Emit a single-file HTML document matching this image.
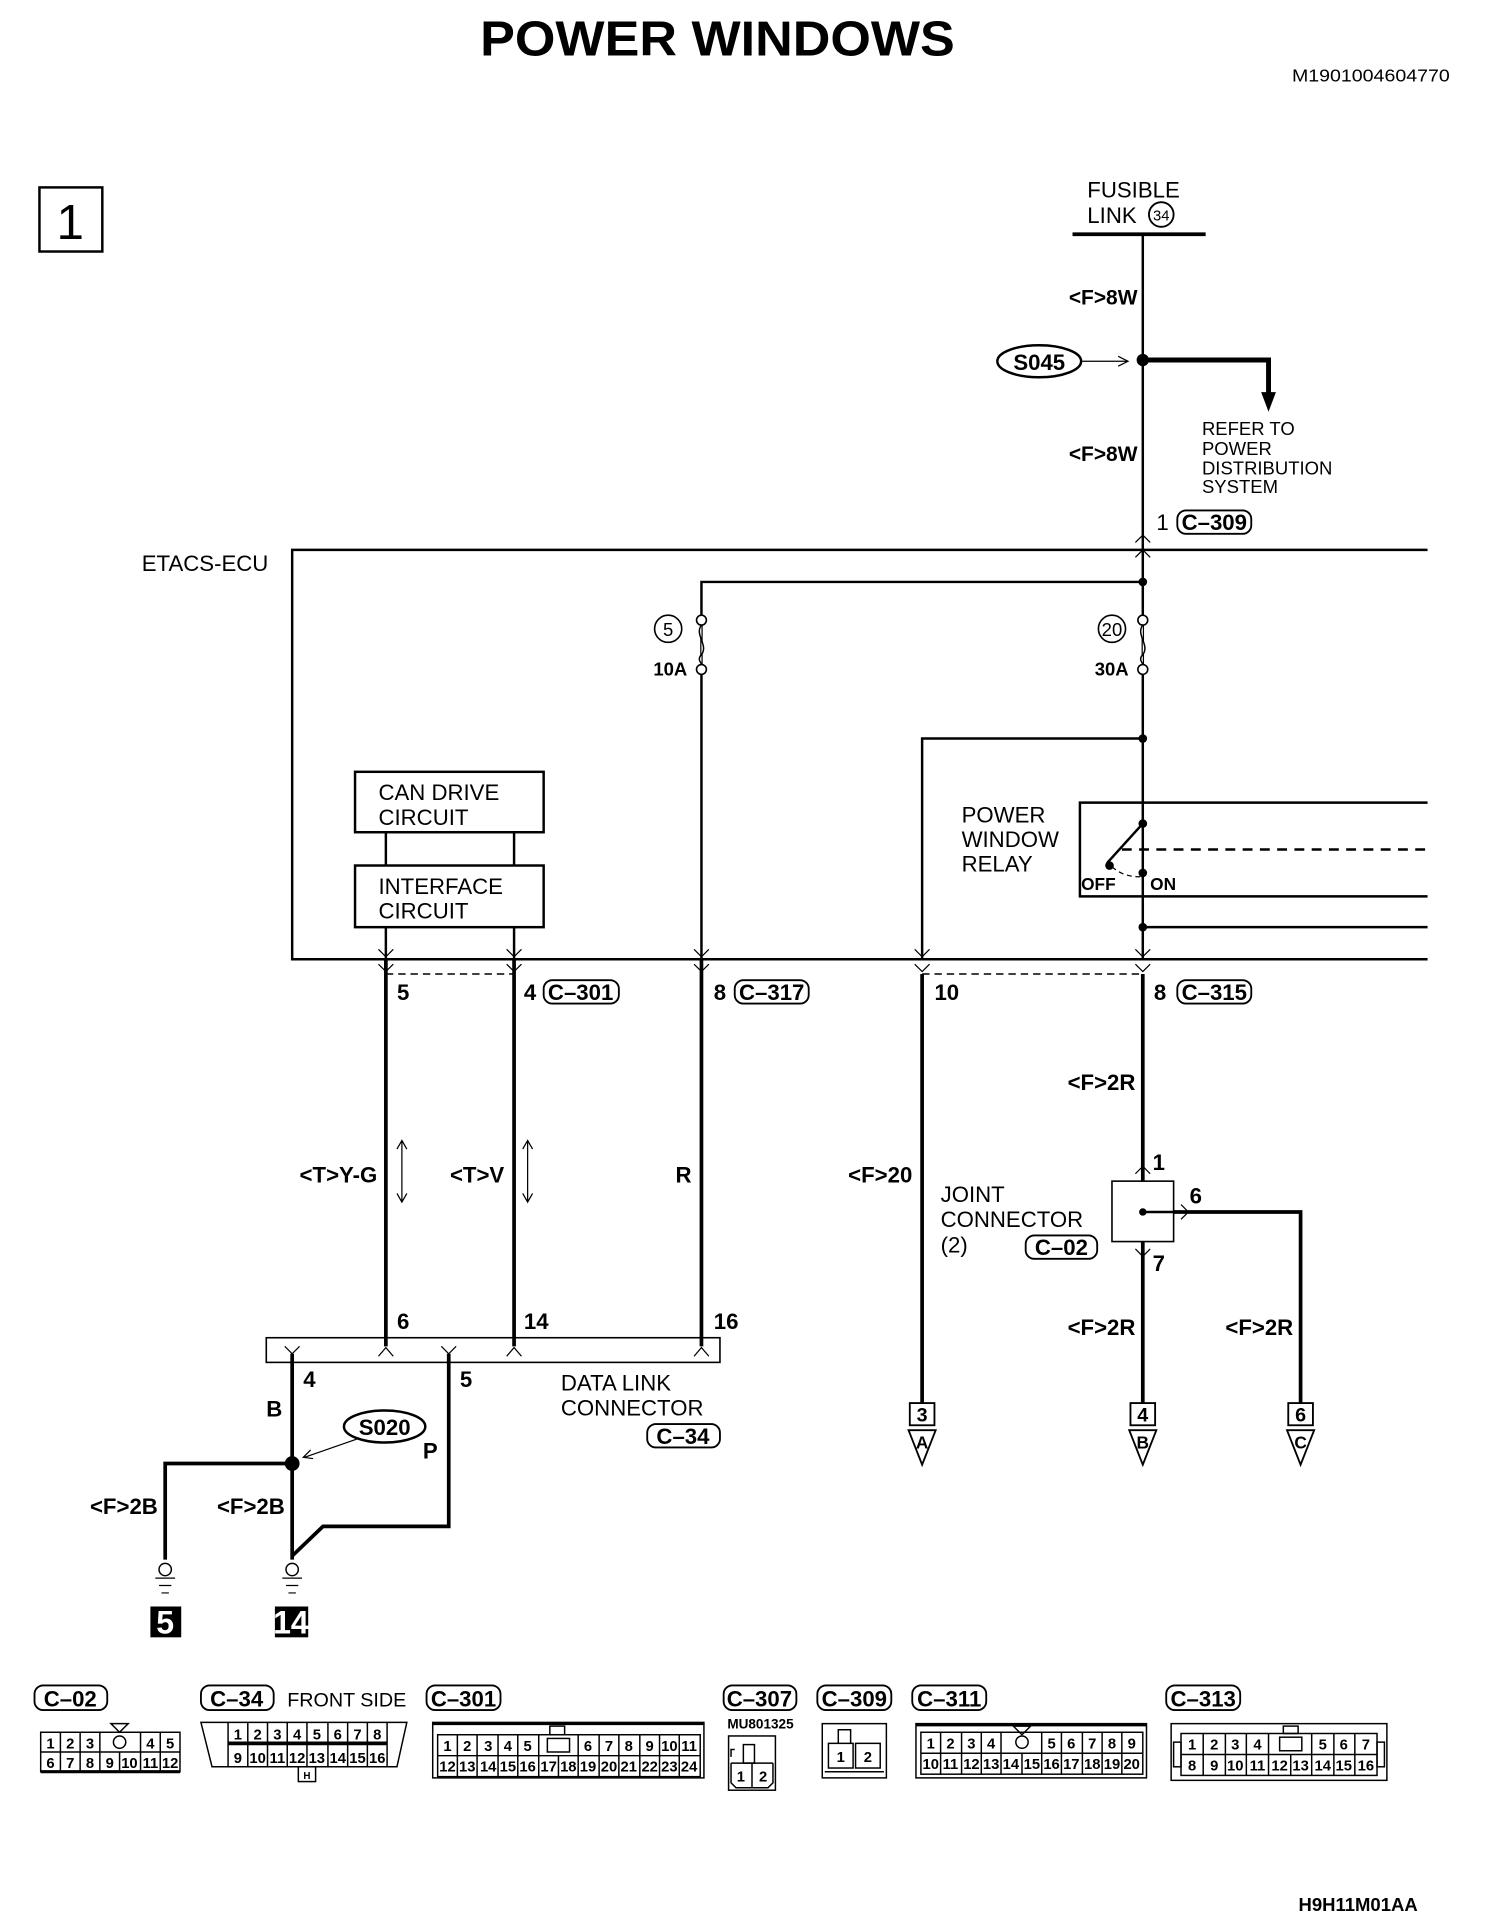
<!DOCTYPE html>
<html><head><meta charset="utf-8"><style>
html,body{margin:0;padding:0;background:#fff}
svg{display:block}
text{font-family:"Liberation Sans Narrow","Liberation Sans",sans-serif;fill:#000}
.b{font-weight:bold}
</style></head><body>
<svg width="1504" height="1932" viewBox="0 0 1220 1567" preserveAspectRatio="none" xmlns="http://www.w3.org/2000/svg">
<rect width="1220" height="1567" fill="#fff"/>
<text x="582" y="45" text-anchor="middle" font-size="40" class="b" style="font-family:'Liberation Sans',sans-serif" textLength="385" lengthAdjust="spacingAndGlyphs">POWER WINDOWS</text>
<text x="1176" y="66" text-anchor="end" font-size="14" textLength="128" lengthAdjust="spacingAndGlyphs">M1901004604770</text>
<rect x="32" y="152" width="51" height="52" fill="none" stroke="#000" stroke-width="2"/>
<text x="57" y="194" text-anchor="middle" font-size="40">1</text>

<text x="882" y="160" font-size="18">FUSIBLE</text>
<text x="882" y="181" font-size="18">LINK</text>
<circle cx="942" cy="174" r="10" fill="none" stroke="#000" stroke-width="1.5"/>
<text x="942" y="179" text-anchor="middle" font-size="12">34</text>
<line x1="870" y1="190" x2="978" y2="190" stroke="#000" stroke-width="3"/>

<g stroke="#000" fill="none" stroke-width="2">
<line x1="927" y1="190" x2="927" y2="778"/>
<path d="M927 292 H1029 V320" stroke-width="4"/>
</g>
<polygon points="1023,318 1035,318 1029,334" fill="#000"/>
<circle cx="927" cy="292" r="5" fill="#000"/>
<ellipse cx="843" cy="293" rx="34" ry="13" fill="none" stroke="#000" stroke-width="2"/>
<text x="843" y="300" text-anchor="middle" font-size="18" class="b">S045</text>
<line x1="878" y1="293" x2="914" y2="293" stroke="#000" stroke-width="1"/>
<path d="M907 289 L915 293 L907 297" fill="none" stroke="#000"/>
<text x="867" y="247" font-size="17" class="b">&lt;F&gt;8W</text>
<text x="867" y="374" font-size="17" class="b">&lt;F&gt;8W</text>
<text x="975" y="353" font-size="15">REFER TO</text>
<text x="975" y="369" font-size="15">POWER</text>
<text x="975" y="385" font-size="15">DISTRIBUTION</text>
<text x="975" y="400" font-size="15">SYSTEM</text>
<text x="938" y="430" font-size="18">1</text>
<rect x="955" y="414" width="60" height="19" rx="7" fill="none" stroke="#000" stroke-width="1.5"/>
<text x="985" y="430" text-anchor="middle" font-size="18" class="b">C–309</text>

<g stroke="#000" fill="none" stroke-width="2">
<path d="M1158 446 H237 V778 H1158"/>
<path d="M569 778 V472 H927"/>
<path d="M748 778 V599 H927"/>
<line x1="313" y1="675" x2="313" y2="702"/>
<line x1="417" y1="675" x2="417" y2="702"/>
<line x1="313" y1="752" x2="313" y2="778"/>
<line x1="417" y1="752" x2="417" y2="778"/>
<rect x="288" y="626" width="153" height="49"/>
<rect x="288" y="702" width="153" height="50"/>
<path d="M1158 651 H876 V727 H1158"/>
<line x1="927" y1="752" x2="1158" y2="752"/>
<line x1="910" y1="689" x2="1158" y2="689" stroke-dasharray="8,6"/>
<line x1="927" y1="668" x2="898" y2="700"/>
<path d="M902 703 Q912 712 927 711" stroke-width="1" stroke-dasharray="4,3"/>
<path d="M569 507 C563 515 575 523 569 531 C563 537 575 541 569 541" stroke-width="1.2" fill="#fff"/>
<path d="M927 507 C921 515 933 523 927 531 C921 537 933 541 927 541" stroke-width="1.2" fill="#fff"/>
<path d="M921 440 L927 434 L933 440 M921 452 L927 446 L933 452" stroke-width="1"/>
<path d="M307 770 L313 776 L319 770 M411 770 L417 776 L423 770 M563 770 L569 776 L575 770 M742 770 L748 776 L754 770 M921 770 L927 776 L933 770" stroke-width="1"/>
<path d="M307 782 L313 788 L319 782 M411 782 L417 788 L423 782 M563 782 L569 788 L575 782 M742 782 L748 788 L754 782 M921 782 L927 788 L933 782" stroke-width="1"/>
<line x1="313" y1="790" x2="417" y2="790" stroke-dasharray="6,4" stroke-width="1.2"/>
<line x1="748" y1="790" x2="927" y2="790" stroke-dasharray="6,4" stroke-width="1.2"/>
</g>
<circle cx="927" cy="472" r="3.5" fill="#000"/>
<circle cx="927" cy="599" r="3.5" fill="#000"/>
<circle cx="927" cy="668" r="3.5" fill="#000"/>
<circle cx="927" cy="708" r="3.5" fill="#000"/>
<circle cx="900" cy="702" r="3.5" fill="#000"/>
<circle cx="927" cy="752" r="3.5" fill="#000"/>
<g fill="#fff" stroke="#000" stroke-width="1.3">
<circle cx="569" cy="503" r="4"/><circle cx="569" cy="543" r="4"/>
<circle cx="927" cy="503" r="4"/><circle cx="927" cy="543" r="4"/>
<circle cx="542" cy="510" r="11"/><circle cx="902" cy="510" r="11"/>
</g>
<text x="542" y="516" text-anchor="middle" font-size="15">5</text>
<text x="902" y="516" text-anchor="middle" font-size="15">20</text>
<text x="530" y="548" font-size="15" class="b">10A</text>
<text x="888" y="548" font-size="15" class="b">30A</text>
<text x="115" y="463" font-size="18">ETACS-ECU</text>
<text x="307" y="649" font-size="18">CAN DRIVE</text>
<text x="307" y="669" font-size="18">CIRCUIT</text>
<text x="307" y="725" font-size="18">INTERFACE</text>
<text x="307" y="745" font-size="18">CIRCUIT</text>
<text x="780" y="667" font-size="18">POWER</text>
<text x="780" y="687" font-size="18">WINDOW</text>
<text x="780" y="707" font-size="18">RELAY</text>
<text x="877" y="722" font-size="14" class="b">OFF</text>
<text x="933" y="722" font-size="14" class="b">ON</text>

<g font-size="18" class="b">
<text x="322" y="811">5</text>
<text x="425" y="811">4</text>
<text x="579" y="811">8</text>
<text x="758" y="811">10</text>
<text x="936" y="811">8</text>
</g>
<g fill="none" stroke="#000" stroke-width="1.5">
<rect x="441" y="795" width="61" height="19" rx="7"/>
<rect x="596" y="795" width="60" height="19" rx="7"/>
<rect x="955" y="795" width="60" height="19" rx="7"/>
</g>
<g font-size="18" class="b" text-anchor="middle">
<text x="471" y="811">C–301</text>
<text x="626" y="811">C–317</text>
<text x="985" y="811">C–315</text>
</g>

<g stroke="#000" fill="none" stroke-width="3">
<line x1="313" y1="778" x2="313" y2="1092"/>
<line x1="417" y1="778" x2="417" y2="1092"/>
<line x1="569" y1="778" x2="569" y2="1092"/>
<line x1="748" y1="790" x2="748" y2="1138"/>
<line x1="927" y1="790" x2="927" y2="958"/>
<line x1="927" y1="1007" x2="927" y2="1138"/>
<path d="M952 983 H1055 V1138"/>
<line x1="237" y1="1098" x2="237" y2="1265"/>
<path d="M237 1187 H134 V1265"/>
<path d="M364 1098 V1238 H262 L237 1262"/>
</g>
<g stroke="#000" fill="none" stroke-width="1">
<path d="M326 925 V975 M322 932 L326 925 L330 932 M322 968 L326 975 L330 968"/>
<path d="M428 925 V975 M424 932 L428 925 L432 932 M424 968 L428 975 L432 968"/>
<rect x="902" y="958" width="50" height="49" stroke-width="1.3"/>
<line x1="927" y1="983" x2="952" y2="983" stroke-width="2"/>
<path d="M921 952 L927 946 L933 952 M921 1013 L927 1019 L933 1013 M958 977 L964 983 L958 989"/>
<rect x="216" y="1085" width="368" height="20" stroke-width="1.3"/>
<path d="M307 1100 L313 1093 L319 1100 M411 1100 L417 1093 L423 1100 M563 1100 L569 1093 L575 1100"/>
<path d="M231 1092 L237 1098 L243 1092 M358 1092 L364 1098 L370 1092"/>
<line x1="293" y1="1166" x2="247" y2="1182"/>
<path d="M252 1176 L246 1182 L254 1183"/>
<path d="M126 1280 H142 M129 1286 H139 M131 1292 H137 M229 1280 H245 M232 1286 H242 M234 1292 H240"/>
</g>
<circle cx="927" cy="983" r="3" fill="#000"/>
<circle cx="237" cy="1187" r="6" fill="#000"/>
<circle cx="134" cy="1273" r="5" fill="#fff" stroke="#000" stroke-width="1.2"/>
<circle cx="237" cy="1273" r="5" fill="#fff" stroke="#000" stroke-width="1.2"/>
<ellipse cx="312" cy="1157" rx="33" ry="13" fill="#fff" stroke="#000" stroke-width="2"/>
<text x="312" y="1164" text-anchor="middle" font-size="18" class="b">S020</text>

<g font-size="18" class="b">
<text x="243" y="959">&lt;T&gt;Y-G</text>
<text x="365" y="959">&lt;T&gt;V</text>
<text x="548" y="959">R</text>
<text x="688" y="959">&lt;F&gt;20</text>
<text x="866" y="884">&lt;F&gt;2R</text>
<text x="866" y="1083">&lt;F&gt;2R</text>
<text x="994" y="1083">&lt;F&gt;2R</text>
<text x="935" y="949">1</text>
<text x="965" y="976">6</text>
<text x="935" y="1031">7</text>
<text x="322" y="1078">6</text>
<text x="425" y="1078">14</text>
<text x="579" y="1078">16</text>
<text x="246" y="1125">4</text>
<text x="373" y="1125">5</text>
<text x="216" y="1149">B</text>
<text x="343" y="1183">P</text>
<text x="73" y="1228">&lt;F&gt;2B</text>
<text x="176" y="1228">&lt;F&gt;2B</text>
</g>
<text x="763" y="975" font-size="18">JOINT</text>
<text x="763" y="995" font-size="18">CONNECTOR</text>
<text x="763" y="1016" font-size="18">(2)</text>
<rect x="832" y="1002" width="58" height="19" rx="7" fill="none" stroke="#000" stroke-width="1.5"/>
<text x="861" y="1018" text-anchor="middle" font-size="18" class="b">C–02</text>
<text x="455" y="1128" font-size="18">DATA LINK</text>
<text x="455" y="1148" font-size="18">CONNECTOR</text>
<rect x="525" y="1155" width="59" height="19" rx="7" fill="none" stroke="#000" stroke-width="1.5"/>
<text x="554" y="1171" text-anchor="middle" font-size="18" class="b">C–34</text>

<g fill="none" stroke="#000" stroke-width="1.5">
<rect x="738" y="1138" width="20" height="18"/>
<path d="M737 1160 H759 L748 1188 Z"/>
<rect x="917" y="1138" width="20" height="18"/>
<path d="M916 1160 H938 L927 1188 Z"/>
<rect x="1045" y="1138" width="20" height="18"/>
<path d="M1044 1160 H1066 L1055 1188 Z"/>
</g>
<g font-size="16" class="b" text-anchor="middle">
<text x="748" y="1153">3</text><text x="748" y="1175" font-size="14">A</text>
<text x="927" y="1153">4</text><text x="927" y="1175" font-size="14">B</text>
<text x="1055" y="1153">6</text><text x="1055" y="1175" font-size="14">C</text>
</g>
<rect x="122" y="1303" width="25" height="25" fill="#000"/>
<rect x="223" y="1303" width="27" height="25" fill="#000"/>
<text x="134" y="1325" text-anchor="middle" font-size="26" class="b" style="fill:#fff">5</text>
<text x="236" y="1325" text-anchor="middle" font-size="26" class="b" style="fill:#fff">14</text>

<g fill="none" stroke="#000" stroke-width="1.5">
<rect x="28" y="1367" width="59" height="20" rx="7"/>
<rect x="163" y="1367" width="59" height="20" rx="7"/>
<rect x="346" y="1367" width="60" height="20" rx="7"/>
<rect x="587" y="1367" width="59" height="20" rx="7"/>
<rect x="663" y="1367" width="60" height="20" rx="7"/>
<rect x="740" y="1367" width="60" height="20" rx="7"/>
<rect x="946" y="1367" width="60" height="20" rx="7"/>
</g>
<g font-size="18" class="b" text-anchor="middle">
<text x="57" y="1384">C–02</text>
<text x="192" y="1384">C–34</text>
<text x="376" y="1384">C–301</text>
<text x="616" y="1384">C–307</text>
<text x="693" y="1384">C–309</text>
<text x="770" y="1384">C–311</text>
<text x="976" y="1384">C–313</text>
</g>
<text x="233" y="1384" font-size="16">FRONT SIDE</text>
<text x="590" y="1402" font-size="11" class="b">MU801325</text>

<g fill="none" stroke="#000" stroke-width="1.2">
<rect x="33" y="1405" width="113" height="32"/>
<line x1="33" y1="1421" x2="146" y2="1421"/>
<path d="M49 1405V1421M65 1405V1421M81 1405V1421M114 1405V1421M130 1405V1421"/>
<path d="M49 1421V1437M65 1421V1437M81 1421V1437M97 1421V1437M114 1421V1437M130 1421V1437"/>
<circle cx="97" cy="1413" r="5"/>
<path d="M90 1398 H104 L97 1405 Z"/>
<line x1="33" y1="1437" x2="146" y2="1437" stroke-width="2.5"/>
<path d="M163 1397 H330 L322 1433 H172 Z"/>
<line x1="185" y1="1397" x2="185" y2="1433"/><line x1="314" y1="1397" x2="314" y2="1433"/>
<line x1="185" y1="1414" x2="314" y2="1414" stroke-width="3"/>
<path d="M201 1397V1433M217 1397V1433M233 1397V1433M249 1397V1433M266 1397V1433M282 1397V1433M298 1397V1433"/>
<rect x="242" y="1433" width="14" height="12"/>
<rect x="351" y="1397" width="220" height="45"/>
<line x1="351" y1="1398" x2="571" y2="1398" stroke-width="2.5"/>
<rect x="355" y="1407" width="213" height="34"/>
<line x1="355" y1="1424" x2="568" y2="1424"/>
<path d="M371 1407V1424M387 1407V1424M404 1407V1424M420 1407V1424M437 1407V1424M469 1407V1424M486 1407V1424M502 1407V1424M519 1407V1424M535 1407V1424M551 1407V1424"/>
<path d="M371 1424V1441M387 1424V1441M404 1424V1441M420 1424V1441M437 1424V1441M453 1424V1441M469 1424V1441M486 1424V1441M502 1424V1441M519 1424V1441M535 1424V1441M551 1424V1441"/>
<rect x="444" y="1410" width="18" height="11"/><rect x="446" y="1400" width="12" height="7"/>
<rect x="591" y="1408" width="38" height="44"/>
<path d="M593 1430 H627 M610 1430 V1450 M593 1430 V1446 L597 1450 H623 L627 1446 V1430"/>
<rect x="603" y="1415" width="9" height="15"/><path d="M593 1425 V1419 H596"/>
<rect x="667" y="1398" width="52" height="44"/>
<rect x="672" y="1414" width="20" height="20"/><rect x="694" y="1414" width="20" height="20"/>
<line x1="669" y1="1437" x2="717" y2="1437"/><path d="M680 1414 V1403 H690 V1414"/>
<rect x="743" y="1398" width="187" height="44"/>
<line x1="743" y1="1399" x2="930" y2="1399" stroke-width="2.5"/>
<rect x="747" y="1405" width="180" height="34"/>
<line x1="747" y1="1422" x2="927" y2="1422"/>
<path d="M763 1405V1422M780 1405V1422M796 1405V1422M812 1405V1422M845 1405V1422M861 1405V1422M878 1405V1422M894 1405V1422M910 1405V1422"/>
<path d="M763 1422V1439M780 1422V1439M796 1422V1439M812 1422V1439M829 1422V1439M845 1422V1439M861 1422V1439M878 1422V1439M894 1422V1439M910 1422V1439"/>
<circle cx="829" cy="1413" r="5"/><path d="M822 1400 H836 L829 1407 Z"/>
<rect x="950" y="1398" width="175" height="46"/>
<rect x="958" y="1406" width="159" height="34"/>
<line x1="958" y1="1423" x2="1117" y2="1423"/>
<path d="M976 1406V1423M994 1406V1423M1011 1406V1423M1029 1406V1423M1064 1406V1423M1082 1406V1423M1099 1406V1423"/>
<path d="M976 1423V1440M994 1423V1440M1011 1423V1440M1029 1423V1440M1047 1423V1440M1064 1423V1440M1082 1423V1440M1099 1423V1440"/>
<rect x="1038" y="1409" width="18" height="11"/><rect x="1041" y="1400" width="12" height="6"/>
<rect x="952" y="1413" width="6" height="20"/><rect x="1117" y="1413" width="6" height="20"/>
</g>
<g font-size="12" class="b" text-anchor="middle">
<text x="41" y="1418">1</text><text x="57" y="1418">2</text><text x="73" y="1418">3</text><text x="122" y="1418">4</text><text x="138" y="1418">5</text>
<text x="41" y="1434">6</text><text x="57" y="1434">7</text><text x="73" y="1434">8</text><text x="89" y="1434">9</text><text x="105" y="1434">10</text><text x="122" y="1434">11</text><text x="138" y="1434">12</text>
<text x="193" y="1411">1</text><text x="209" y="1411">2</text><text x="225" y="1411">3</text><text x="241" y="1411">4</text><text x="257" y="1411">5</text><text x="274" y="1411">6</text><text x="290" y="1411">7</text><text x="306" y="1411">8</text>
<text x="193" y="1430">9</text><text x="209" y="1430">10</text><text x="225" y="1430">11</text><text x="241" y="1430">12</text><text x="257" y="1430">13</text><text x="274" y="1430">14</text><text x="290" y="1430">15</text><text x="306" y="1430">16</text>
<text x="249" y="1443" font-size="8">H</text>
<text x="363" y="1420">1</text><text x="379" y="1420">2</text><text x="396" y="1420">3</text><text x="412" y="1420">4</text><text x="428" y="1420">5</text><text x="477" y="1420">6</text><text x="494" y="1420">7</text><text x="510" y="1420">8</text><text x="527" y="1420">9</text><text x="543" y="1420">10</text><text x="559" y="1420">11</text>
<text x="363" y="1437">12</text><text x="379" y="1437">13</text><text x="396" y="1437">14</text><text x="412" y="1437">15</text><text x="428" y="1437">16</text><text x="445" y="1437">17</text><text x="461" y="1437">18</text><text x="477" y="1437">19</text><text x="494" y="1437">20</text><text x="510" y="1437">21</text><text x="527" y="1437">22</text><text x="543" y="1437">23</text><text x="559" y="1437">24</text>
<text x="601" y="1445">1</text><text x="619" y="1445">2</text>
<text x="682" y="1429">1</text><text x="704" y="1429">2</text>
<text x="755" y="1418">1</text><text x="771" y="1418">2</text><text x="788" y="1418">3</text><text x="804" y="1418">4</text><text x="853" y="1418">5</text><text x="869" y="1418">6</text><text x="886" y="1418">7</text><text x="902" y="1418">8</text><text x="918" y="1418">9</text>
<text x="755" y="1435">10</text><text x="771" y="1435">11</text><text x="788" y="1435">12</text><text x="804" y="1435">13</text><text x="820" y="1435">14</text><text x="837" y="1435">15</text><text x="853" y="1435">16</text><text x="869" y="1435">17</text><text x="886" y="1435">18</text><text x="902" y="1435">19</text><text x="918" y="1435">20</text>
<text x="967" y="1419">1</text><text x="985" y="1419">2</text><text x="1002" y="1419">3</text><text x="1020" y="1419">4</text><text x="1073" y="1419">5</text><text x="1090" y="1419">6</text><text x="1108" y="1419">7</text>
<text x="967" y="1436">8</text><text x="985" y="1436">9</text><text x="1002" y="1436">10</text><text x="1020" y="1436">11</text><text x="1038" y="1436">12</text><text x="1055" y="1436">13</text><text x="1073" y="1436">14</text><text x="1090" y="1436">15</text><text x="1108" y="1436">16</text>
</g>
<text x="1150" y="1550" text-anchor="end" font-size="15" class="b">H9H11M01AA</text>
</svg>
</body></html>
